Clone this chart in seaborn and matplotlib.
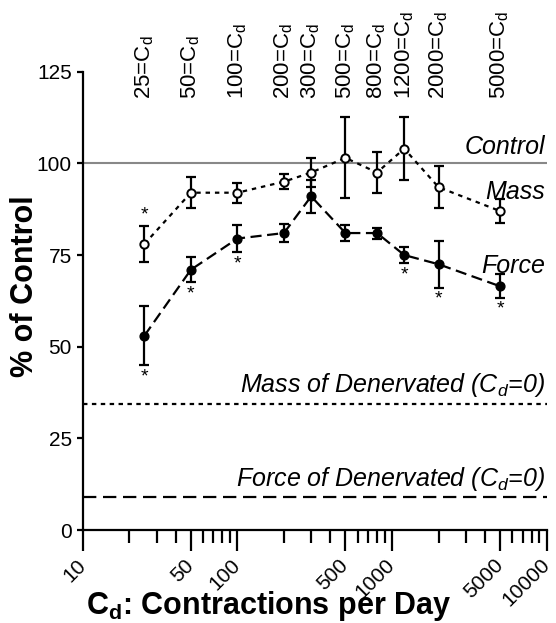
import numpy as np
import pandas as pd
import matplotlib
matplotlib.use('Agg')
import matplotlib.pyplot as plt
import seaborn as sns
from matplotlib.ticker import FixedLocator, NullFormatter

# data
contractions = [25, 50, 100, 200, 300, 500, 800, 1200, 2000, 5000]
mass_mean = [78, 92, 92, 95, 97.5, 101.5, 97.5, 104, 93.5, 87]
mass_err = [5, 4.3, 2.7, 2, 4, 11, 5.5, 8.5, 5.7, 3.2]
force_mean = [53, 71, 79.5, 81, 91, 81, 81, 75, 72.5, 66.5]
force_err = [8, 3.4, 3.7, 2.5, 4.4, 2.3, 1.5, 2.3, 6.4, 3.2]
mass_sig = [25]
force_sig = [25, 50, 100, 1200, 2000, 5000]
control_level = 100
mass_denervated = 34.5
force_denervated = 9

sns.set_style('ticks', {'axes.edgecolor': 'black', 'text.color': 'black',
                        'xtick.color': 'black', 'ytick.color': 'black',
                        'axes.labelcolor': 'black'})
plt.rcParams['font.family'] = ['Liberation Sans', 'DejaVu Sans']
plt.rcParams['mathtext.fontset'] = 'custom'
plt.rcParams['mathtext.rm'] = 'Liberation Sans'
plt.rcParams['mathtext.it'] = 'Liberation Sans:italic'
plt.rcParams['mathtext.bf'] = 'Liberation Sans:bold'

df = pd.DataFrame({
    'Cd': contractions * 2,
    'value': mass_mean + force_mean,
    'err': mass_err + force_err,
    'group': ['Mass'] * len(contractions) + ['Force'] * len(contractions),
})

fig = plt.figure(figsize=(5.56, 6.23), dpi=100)
ax = fig.add_axes([0.149, 0.149, 0.834, 0.736])

# reference lines
ax.axhline(control_level, color='#888888', lw=1.5, zorder=1)
ax.axhline(mass_denervated, color='black', lw=1.6, ls=(0, (2, 2)), zorder=1)
ax.axhline(force_denervated, color='black', lw=1.6, ls=(0, (6, 3)), zorder=1)

# error bars
for grp, sub in df.groupby('group'):
    ax.errorbar(sub['Cd'], sub['value'], yerr=sub['err'], fmt='none',
                ecolor='black', elinewidth=1.6, capsize=3.5, capthick=1.6, zorder=2)

# lines
sns.lineplot(data=df[df['group'] == 'Mass'], x='Cd', y='value', ax=ax,
             color='black', lw=1.6, linestyle=(0, (2, 2.2)), zorder=3)
sns.lineplot(data=df[df['group'] == 'Force'], x='Cd', y='value', ax=ax,
             color='black', lw=1.6, linestyle=(0, (5, 2.5)), zorder=3)

# markers
ax.scatter(contractions, mass_mean, s=36, facecolor='white', edgecolor='black',
           linewidth=1.4, zorder=4)
ax.scatter(contractions, force_mean, s=40, facecolor='black', edgecolor='black',
           zorder=4)

# significance stars
for c in mass_sig:
    i = contractions.index(c)
    ax.text(c, mass_mean[i] + mass_err[i] + 0.5, '*', ha='center', va='bottom',
            fontsize=14)
for c in force_sig:
    i = contractions.index(c)
    ax.text(c, force_mean[i] - force_err[i] - 0.8, '*', ha='center', va='top',
            fontsize=14)

# top labels
for c in contractions:
    ax.text(c, 117.5, f'{c}=C$_{{\\mathrm{{d}}}}$', rotation=90, ha='center',
            va='bottom', fontsize=16, clip_on=False)

# line annotations
xr = 9800
ax.text(xr, control_level + 1.2, 'Control', style='italic', ha='right',
        va='bottom', fontsize=18)
ax.text(xr, 92.3, 'Mass', style='italic', ha='right', va='center', fontsize=18)
ax.text(xr, 72, 'Force', style='italic', ha='right', va='center', fontsize=18)
ax.text(xr, mass_denervated + 1.2, 'Mass of Denervated (C$_{\\mathit{d}}$=0)',
        style='italic', ha='right', va='bottom', fontsize=18)
ax.text(xr, force_denervated + 1.2, 'Force of Denervated (C$_{\\mathit{d}}$=0)',
        style='italic', ha='right', va='bottom', fontsize=18)

ax.set_xscale('log')
ax.set_xlim(10, 10000)
ax.set_ylim(0, 125)
major = [10, 50, 100, 500, 1000, 5000, 10000]
minor = [v * d for d in [10, 100, 1000] for v in range(2, 10) if v != 5]
ax.xaxis.set_major_locator(FixedLocator(major))
ax.xaxis.set_minor_locator(FixedLocator(minor))
ax.xaxis.set_minor_formatter(NullFormatter())
ax.set_xticklabels([str(v) for v in major], rotation=45, ha='right',
                   va='center', rotation_mode='anchor', fontsize=15)
ax.set_yticks([0, 25, 50, 75, 100, 125])
ax.tick_params(axis='y', labelsize=15, width=1.6, length=4.5, pad=3.5)
ax.tick_params(axis='x', which='major', width=1.6, length=15, pad=8)
ax.tick_params(axis='x', which='minor', width=1.6, length=9)
for s in ['left', 'bottom']:
    ax.spines[s].set_linewidth(1.6)
sns.despine(ax=ax)

ax.set_xlabel('C$_\\mathbf{d}$: Contractions per Day', fontsize=22,
              fontweight='bold')
ax.xaxis.set_label_coords(0.40, -0.128)
ax.set_ylabel('% of Control', fontsize=22, fontweight='bold')
ax.yaxis.set_label_coords(-0.093, 0.532)

fig.savefig('out.png', dpi=100)
